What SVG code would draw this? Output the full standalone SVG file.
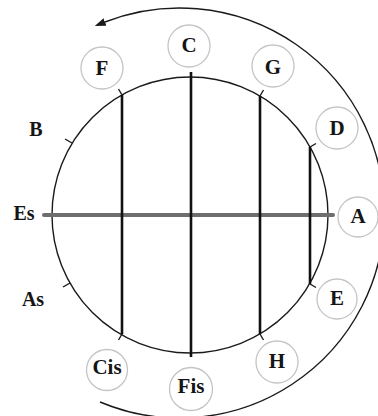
<svg xmlns="http://www.w3.org/2000/svg" width="378" height="416" viewBox="0 0 378 416">
<style>
.bg{fill:#ffffff}
.node circle{fill:#ffffff;stroke:#c4c4c4;stroke-width:1.3}
.lbl{font-family:"Liberation Serif","Times New Roman",serif;font-weight:bold;font-size:21px;fill:#151515;text-anchor:middle}
.side{font-family:"Liberation Serif","Times New Roman",serif;font-weight:bold;font-size:20px;fill:#151515;text-anchor:middle}
.ring{fill:none;stroke:#1a1a1a;stroke-width:1.4}
.chord{stroke:#111111;stroke-width:2.6;stroke-linecap:butt}
.tick{stroke:#1a1a1a;stroke-width:1.4}
.axis{stroke:#6e6e6e;stroke-width:4;stroke-linecap:round}
</style>
<defs>
<marker id="ah" markerUnits="userSpaceOnUse" markerWidth="12" markerHeight="9" refX="0" refY="4" orient="auto">
<path d="M0,0 L11,4 L0,8 z" fill="#1a1a1a"/>
</marker>
</defs>
<rect class="bg" x="0" y="0" width="378" height="416"/>
<g id="outer-arrow">
<path class="ring" d="M100 402 A205 205 0 1 0 105 22" marker-end="url(#ah)"/>
</g>
<g id="inner-circle">
<circle class="ring" cx="190" cy="215" r="138"/>
</g>
<g id="connectors">
<line class="axis" x1="44" y1="215" x2="333" y2="215"/>
<line class="chord" x1="122" y1="95" x2="122" y2="334"/>
<line class="chord" x1="191" y1="72" x2="191" y2="357"/>
<line class="chord" x1="260" y1="96" x2="260" y2="334"/>
<line class="chord" x1="310" y1="147" x2="310" y2="284"/>
<line class="tick" x1="122" y1="95" x2="118.5" y2="89"/>
<line class="tick" x1="260" y1="96" x2="263.5" y2="90"/>
<line class="tick" x1="310" y1="147" x2="316" y2="143.5"/>
<line class="tick" x1="310" y1="284" x2="316" y2="287.5"/>
<line class="tick" x1="260" y1="334" x2="263.5" y2="340"/>
<line class="tick" x1="122" y1="334" x2="118.5" y2="340"/>
<line class="tick" x1="72" y1="143" x2="65" y2="139"/>
<line class="tick" x1="70" y1="283" x2="63" y2="287"/>
</g>
<g id="node-F" class="node"><circle cx="102" cy="68" r="21"/><text class="lbl" x="102" y="75">F</text></g>
<g id="node-C" class="node"><circle cx="189" cy="46" r="21"/><text class="lbl" x="189" y="52">C</text></g>
<g id="node-G" class="node"><circle cx="273" cy="66" r="21"/><text class="lbl" x="273" y="74">G</text></g>
<g id="node-D" class="node"><circle cx="337" cy="128" r="21"/><text class="lbl" x="337" y="135">D</text></g>
<g id="node-A" class="node"><circle cx="358" cy="217" r="20"/><text class="lbl" x="358" y="223">A</text></g>
<g id="node-E" class="node"><circle cx="337" cy="299" r="20"/><text class="lbl" x="337" y="305">E</text></g>
<g id="node-H" class="node"><circle cx="277" cy="362" r="21"/><text class="lbl" x="277" y="368">H</text></g>
<g id="node-Fis" class="node"><circle cx="191" cy="389" r="21.5"/><text class="lbl" x="191" y="393">Fis</text></g>
<g id="node-Cis" class="node"><circle cx="107" cy="370" r="20.5"/><text class="lbl" x="107" y="374">Cis</text></g>
<g id="label-B"><text class="side" x="36" y="136">B</text></g>
<g id="label-Es"><text class="side" x="24" y="220">Es</text></g>
<g id="label-As"><text class="side" x="33" y="306">As</text></g>
</svg>
